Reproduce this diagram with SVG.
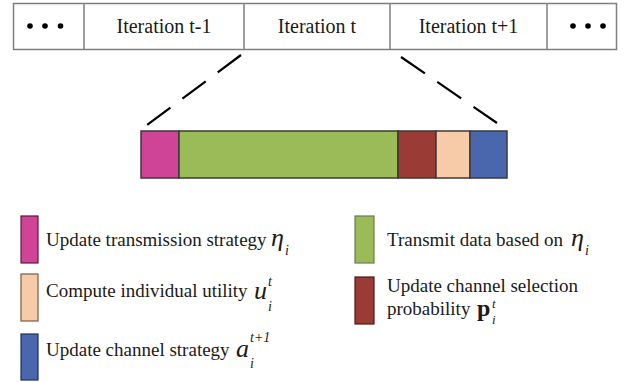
<svg xmlns="http://www.w3.org/2000/svg" width="628" height="382" viewBox="0 0 628 382">
<style>
  .lbl{font-family:"Liberation Serif","Times New Roman",serif;font-size:19px;fill:#1a1a1a}
  .it{font-family:"Liberation Serif","Times New Roman",serif;font-style:italic;fill:#1a1a1a}
  .bd{font-family:"Liberation Serif","Times New Roman",serif;font-weight:bold;fill:#1a1a1a}
  .cell{fill:#fff;stroke:#7f7f7f;stroke-width:1.5}
  .seg{stroke:#3a3a3a;stroke-width:1.5}
  .dash{stroke:#000;stroke-width:2.2;stroke-dasharray:29 15;fill:none}
</style>
<g id="timeline">
  <rect class="cell" x="13.5" y="3.5" width="603" height="46"/>
  <line x1="84" y1="3.5" x2="84" y2="49.5" stroke="#7f7f7f" stroke-width="1.5"/>
  <line x1="244" y1="3.5" x2="244" y2="49.5" stroke="#7f7f7f" stroke-width="1.5"/>
  <line x1="390" y1="3.5" x2="390" y2="49.5" stroke="#7f7f7f" stroke-width="1.5"/>
  <line x1="547" y1="3.5" x2="547" y2="49.5" stroke="#7f7f7f" stroke-width="1.5"/>
  <g fill="#000">
    <circle cx="30" cy="26" r="2.8"/><circle cx="45" cy="26" r="2.8"/><circle cx="60.5" cy="26" r="2.8"/>
    <circle cx="573" cy="26" r="2.8"/><circle cx="588" cy="26" r="2.8"/><circle cx="603" cy="26" r="2.8"/>
  </g>
  <text class="lbl" style="font-size:20px" x="164" y="33" text-anchor="middle">Iteration t-1</text>
  <text class="lbl" style="font-size:20px" x="317" y="33" text-anchor="middle">Iteration t</text>
  <text class="lbl" style="font-size:20px" x="468.5" y="33" text-anchor="middle">Iteration t+1</text>
</g>
<g id="connectors">
  <line class="dash" x1="241" y1="55" x2="147" y2="125"/>
  <line class="dash" x1="401" y1="57" x2="497" y2="123"/>
</g>
<g id="bar">
  <rect class="seg" x="141" y="131" width="38" height="47" fill="#D04497"/>
  <rect class="seg" x="179" y="131" width="219" height="47" fill="#9BBB59"/>
  <rect class="seg" x="398" y="131" width="38" height="47" fill="#9B3B36"/>
  <rect class="seg" x="436" y="131" width="34" height="47" fill="#F8CBA8"/>
  <rect class="seg" x="470" y="131" width="37" height="47" fill="#4A67AE"/>
</g>
<g id="legend-update-transmission">
  <rect x="21" y="216" width="17" height="47" fill="#D04497" stroke="#5a1a3a" stroke-width="1.2"/>
  <text class="lbl" x="46" y="246">Update transmission strategy</text>
  <text class="it" x="271" y="246" font-size="26">η</text>
  <text class="it" x="285" y="255" font-size="14">i</text>
</g>
<g id="legend-compute-utility">
  <rect x="21" y="274" width="17" height="47" fill="#F8CBA8" stroke="#7a5a40" stroke-width="1.2"/>
  <text class="lbl" x="46" y="297">Compute individual utility</text>
  <text class="it" x="254" y="299" font-size="26">u</text>
  <text class="it" x="268" y="286" font-size="14">t</text>
  <text class="it" x="268" y="311" font-size="14">i</text>
</g>
<g id="legend-update-channel-strategy">
  <rect x="21" y="334" width="17" height="46" fill="#4A67AE" stroke="#1f2d55" stroke-width="1.2"/>
  <text class="lbl" x="46" y="356">Update channel strategy</text>
  <text class="it" x="236" y="357" font-size="26">a</text>
  <text class="it" x="250" y="342" font-size="14">t+1</text>
  <text class="it" x="250" y="368" font-size="14">i</text>
</g>
<g id="legend-transmit-data">
  <rect x="355" y="216" width="19" height="47" fill="#9BBB59" stroke="#6b7a55" stroke-width="1.2"/>
  <text class="lbl" x="387" y="246">Transmit data based on</text>
  <text class="it" x="571" y="246" font-size="26">η</text>
  <text class="it" x="585" y="255" font-size="14">i</text>
</g>
<g id="legend-update-probability">
  <rect x="355" y="277" width="19" height="47" fill="#9B3B36" stroke="#4a1a18" stroke-width="1.2"/>
  <text class="lbl" x="387" y="292">Update channel selection</text>
  <text class="lbl" x="387" y="315">probability</text>
  <text class="bd" x="477" y="316" font-size="24">p</text>
  <text class="it" x="492" y="308" font-size="13">t</text>
  <text class="it" x="492" y="324" font-size="13">i</text>
</g>
</svg>
